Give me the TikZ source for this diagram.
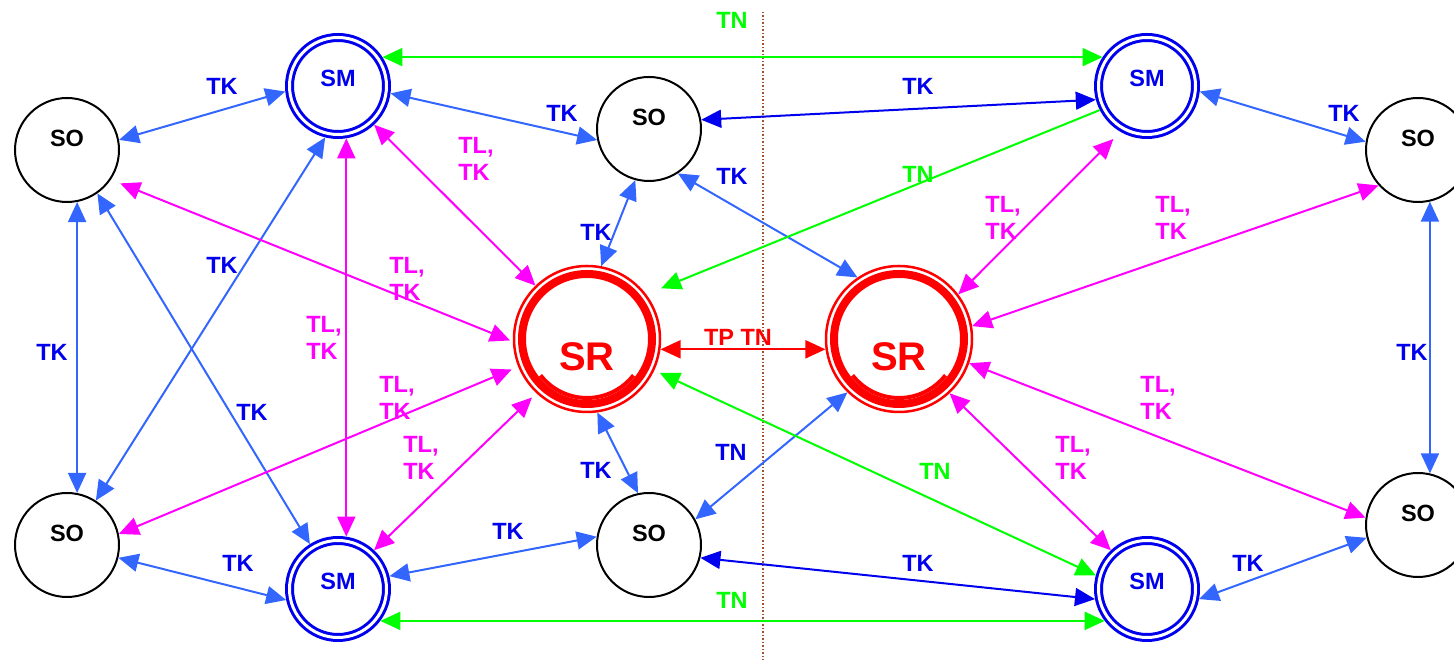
\documentclass[tikz,border=0pt]{standalone}
\usepackage{fontspec}
\setmainfont{Liberation Sans}
\usetikzlibrary{arrows.meta}

\definecolor{tkblue}{RGB}{51,102,255}
\definecolor{dkblue}{RGB}{0,0,238}
\definecolor{tngreen}{RGB}{0,255,0}
\definecolor{tlmag}{RGB}{255,0,255}
\definecolor{srred}{RGB}{255,0,0}
\definecolor{divbrown}{RGB}{160,82,45}

\newcommand\lblfont{\fontsize{23.5}{27}\selectfont\bfseries}

\begin{document}
\begin{tikzpicture}[x=1pt,y=1pt,
    >={Triangle[length=20pt,width=18pt]},
    so/.style={circle, draw=black, line width=2pt, minimum size=104pt, inner sep=0pt,
      label={[yshift=12pt, text=black, font=\lblfont]center:SO}},
    sm/.style={circle, draw=dkblue, line width=3pt, double=white, double distance=3pt,
      minimum size=97pt, inner sep=0pt, outer sep=4.5pt,
      label={[yshift=8pt, text=dkblue, font=\lblfont]center:SM}},
    sr/.style={circle, draw=srred, line width=2.5pt, minimum size=146pt, inner sep=0pt,
      label={[yshift=-18pt, text=srred, font=\fontsize{40}{48}\selectfont\bfseries]center:SR}},
    tkline/.style={<->, draw=tkblue, line width=2pt},
    tkdline/.style={<->, draw=dkblue, line width=2pt},
    tnline/.style={<->, draw=tngreen, line width=2pt},
    tlline/.style={<->, draw=tlmag, line width=2pt},
    tpline/.style={<->, draw=srred, line width=2pt},
    tklbl/.style={text=dkblue, font=\lblfont, inner sep=0pt},
    tnlbl/.style={text=tngreen, font=\lblfont, inner sep=0pt},
    tllbl/.style={text=tlmag, font=\lblfont, inner sep=0pt, align=left},
    tplbl/.style={text=srred, font=\lblfont, inner sep=0pt}]
  \useasboundingbox (0,0) rectangle (1454,660);

  % divider
  \coordinate (divtop) at (763,648);
  \coordinate (divbot) at (763,0);
  \draw[divbrown, line width=1.5pt, dotted] (divtop) -- (divbot);

  % nodes
  \node[so] (soLT) at (67,510) {};
  \node[so] (soLB) at (67,115) {};
  \node[so] (soCT) at (649,531) {};
  \node[so] (soCB) at (649,115) {};
  \node[so] (soRT) at (1418,510) {};
  \node[so] (soRB) at (1418,135) {};
  \node[sm] (smTL) at (338,574) {};
  \node[sm] (smBL) at (338,71) {};
  \node[sm] (smTR) at (1147,574) {};
  \node[sm] (smBR) at (1147,71) {};
  \node[sr] (srL) at (587,321) {};
  \node[sr] (srR) at (899,321) {};
  \foreach \r in {srL,srR} {
    \draw[srred, line width=8pt] (\r) circle (65);
    \draw[srred, line width=4pt] (\r.center) ++(218:59) arc (218:322:59);
  }

  % TK links
  \begin{scope}[tkline]
    \draw (soLT.11) -- (smTL.186);
    \draw (smTL.352) -- (soCT.192);
    \draw (soLT.281) -- (soLB.79);
    \draw (soLT.305) -- (smBL.122);
    \draw (soLB.57) -- (smTL.256);
    \draw (soLB.346) -- (smBL.192);
    \draw (smBL.14) -- (soCB.171);
    \draw (soCT.255) -- (srL.79);
    \draw (soCT.303) -- (srR.124);
    \draw (srL.278) -- (soCB.102);
    \draw (soCB.29) -- (srR.226);
    \draw (smTR.354) -- (soRT.171);
    \draw (soRT.283) -- (soRB.77);
    \draw (smBR.349) -- (soRB.194);
  \end{scope}
  \begin{scope}[tkdline]
    \draw (soCT.10) -- (smTR.195);
    \draw (soCB.346) -- (smBR.191);
  \end{scope}

  % TN links
  \begin{scope}[tnline]
    \draw (smTL.33) -- (smTR.147);
    \draw (smBL.323) -- (smBR.217);
    \draw[-{Triangle[length=20pt,width=18pt]}, shorten >=16pt] (smTR.207) -- (srL.37);
    \draw[shorten <=6pt] (srL.335) -- (smBR.165);
  \end{scope}

  % TL, TK links
  \begin{scope}[tlline]
    \draw (smTL.313) -- (srL.134);
    \draw[shorten <=10pt, shorten >=3pt] (soLT.326) -- (srL.182);
    \draw (smTL.279) -- (smBL.81);
    \draw[shorten >=7pt] (soLB.12) -- (srL.202);
    \draw[shorten >=6pt] (smBL.47) -- (srL.227);
    \draw[shorten <=10pt] (smTR.240) -- (srR.37);
    \draw (soRT.222) -- (srR.10);
    \draw (srR.341) -- (soRB.172);
    \draw (srR.313) -- (smBR.133);
  \end{scope}

  % TP TN link
  \draw[tpline] (srL.352) -- (srR.188);

  % labels
  \node[tklbl] (tk1) at (222,574) {TK};
  \node[tklbl] (tk2) at (562,547) {TK};
  \node[tklbl] (tk3) at (52,308) {TK};
  \node[tklbl] (tk4) at (222,395) {TK};
  \node[tklbl] (tk5) at (252,248) {TK};
  \node[tklbl] (tk6) at (238,97) {TK};
  \node[tklbl] (tk7) at (508,129) {TK};
  \node[tklbl] (tk8) at (596,428) {TK};
  \node[tklbl] (tk9) at (732,484) {TK};
  \node[tklbl] (tk10) at (596,190) {TK};
  \node[tklbl] (tk11) at (918,574) {TK};
  \node[tklbl] (tk12) at (918,97) {TK};
  \node[tklbl] (tk13) at (1344,547) {TK};
  \node[tklbl] (tk14) at (1412,308) {TK};
  \node[tklbl] (tk15) at (1248,97) {TK};
  \node[tklbl] (tn0) at (731,208) {TN};
  \node[tnlbl] (tn1) at (732,640) {TN};
  \node[tnlbl] (tn2) at (732,60) {TN};
  \node[tnlbl] (tn3) at (918,486) {TN};
  \node[tnlbl] (tn4) at (935,189) {TN};
  \node[tllbl] (tl1) at (476,501) {TL,\\TK};
  \node[tllbl] (tl2) at (407,381) {TL,\\TK};
  \node[tllbl] (tl3) at (324,322) {TL,\\TK};
  \node[tllbl] (tl4) at (397,262) {TL,\\TK};
  \node[tllbl] (tl5) at (421,202) {TL,\\TK};
  \node[tllbl] (tl6) at (1003,442) {TL,\\TK};
  \node[tllbl] (tl7) at (1173,442) {TL,\\TK};
  \node[tllbl] (tl8) at (1158,262) {TL,\\TK};
  \node[tllbl] (tl9) at (1073,202) {TL,\\TK};
  \node[tplbl] (tp1) at (738,323) {TP TN};
\end{tikzpicture}
\end{document}
